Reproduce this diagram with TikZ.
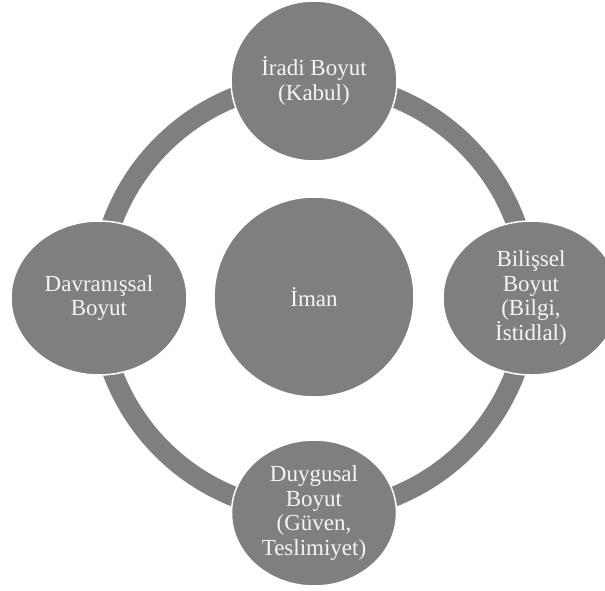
\documentclass[tikz,border=0pt]{standalone}
\usepackage{fontspec}
\setmainfont{Liberation Serif}
\usepackage[rgb]{xcolor}
\usepackage{tikz}
\usetikzlibrary{shapes.geometric}
\definecolor{dimgray}{RGB}{127,127,127}
\definecolor{paper}{RGB}{245,245,245}

\begin{document}
\begin{tikzpicture}[x=1pt, y=-1pt,
  dim/.style={ellipse, fill=dimgray, draw=white, line width=1.5pt, inner sep=0pt,
    text=paper, align=center, font=\fontsize{23}{24.5}\selectfont}]
\useasboundingbox (0,0) rectangle (605,590);

\node [dim, minimum width=200pt, minimum height=200pt] (iman) at (314,297) {İman};
\draw [dimgray, line width=20pt] (iman.center) circle (215pt);

\node [dim, minimum width=166pt, minimum height=160pt] (iradi) at (314,81) {İradi Boyut\\(Kabul)};
\node [dim, minimum width=176pt, minimum height=154pt] (bilissel) at (531,298) {Bilişsel\\Boyut\\(Bilgi,\\İstidlal)};
\node [dim, minimum width=165pt, minimum height=146pt] (duygusal) at (314,513) {Duygusal\\Boyut\\(Güven,\\Teslimiyet)};
\node [dim, minimum width=176pt, minimum height=154pt] (davranis) at (99,298) {Davranışsal\\Boyut};
\end{tikzpicture}
\end{document}
